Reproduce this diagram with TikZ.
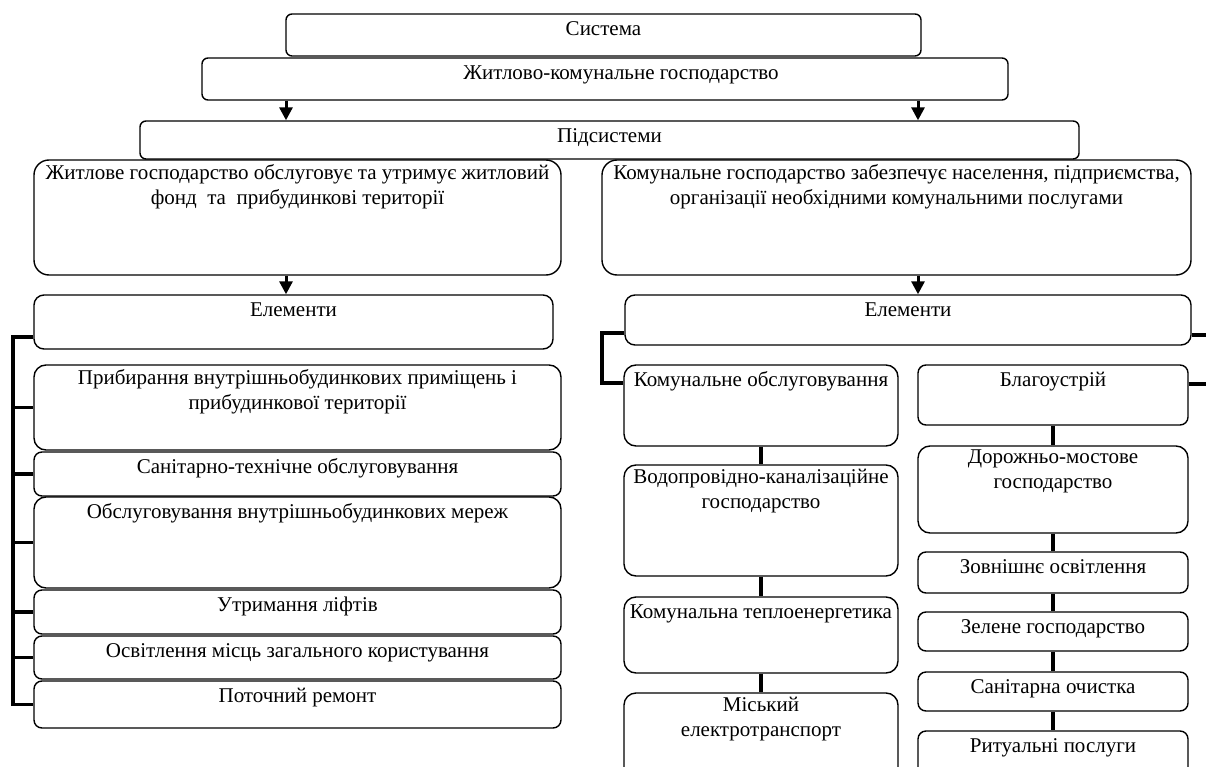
\documentclass[tikz,border=0pt]{standalone}
\usepackage{fontspec}
\setmainfont{Liberation Serif}
\usetikzlibrary{arrows.meta}
\tikzset{
 box/.style={draw, line width=1.4pt, rounded corners=#1, inner sep=0pt},
 box/.default=8pt,
 txt/.style={anchor=north, align=center, inner sep=0pt, font=\fontsize{21}{25}\selectfont, execute at begin node=\strut},
 conn/.style={line width=3.5pt},
 arr/.style={line width=3pt, -{Triangle[width=13pt,length=13pt]}},
}
\newcommand\bx[7][8pt]{%
 \node[box=#1, minimum width={#5-#3}, minimum height={#6-#4}] (#2) at ({(#3+#5)/2},{(#4+#6)/2}) {};
 \node[txt] (#2-t) at ([yshift=-4.5pt]#2.north) {#7};
}
\begin{document}
\begin{tikzpicture}[x=1pt,y=-1pt]
\useasboundingbox[fill=white] (0,0) rectangle (1206,767);
\bx[6pt]{sys}{286}{14}{921}{56}{Система}
\node[box=6pt, minimum width=806, minimum height=42] (zhk) at (605,79) {};
\node[txt] (zhk-t) at ([yshift=-4.5pt,xshift=16pt]zhk.north) {Житлово-комунальне господарство};
\bx[6pt]{pid}{140}{121}{1079}{159}{Підсистеми}
\bx[15pt]{zh}{34}{160}{561}{275}{Житлове господарство обслуговує та утримує житловий\\фонд \ та \ прибудинкові території}
\bx[15pt]{kom}{602}{160}{1191}{275}{Комунальне господарство забезпечує населення, підприємства,\\організації необхідними комунальними послугами}
\bx[10pt]{elL}{34}{295}{553}{349}{Елементи}
\bx[12pt]{pr}{34}{365}{561}{450}{Прибирання внутрішньобудинкових приміщень і\\прибудинкової території}
\bx{san}{34}{452}{561}{496}{Санітарно-технічне обслуговування}
\bx[12pt]{obs}{34}{497}{561}{588}{Обслуговування внутрішньобудинкових мереж}
\bx{lift}{34}{590}{561}{634}{Утримання ліфтів}
\bx{osv}{34}{636}{561}{679}{Освітлення місць загального користування}
\bx{rem}{34}{681}{561}{728}{Поточний ремонт}
\bx[10pt]{elR}{625}{295}{1191}{345}{Елементи}
\bx[12pt]{ko}{624}{365}{898}{446}{Комунальне обслуговування}
\bx[12pt]{vod}{624}{465}{898}{576}{Водопровідно-каналізаційне\\господарство}
\bx[12pt]{tep}{624}{597}{898}{673}{Комунальна теплоенергетика}
\bx[12pt]{mis}{624}{693}{898}{790}{Міський\\електротранспорт}
\bx{bla}{918}{365}{1188}{425}{Благоустрій}
\bx[12pt]{dor}{918}{446}{1188}{533}{Дорожньо-мостове\\господарство}
\bx{zov}{918}{552}{1188}{593}{Зовнішнє освітлення}
\bx{zel}{918}{612}{1188}{651}{Зелене господарство}
\bx{sanoch}{918}{672}{1188}{711}{Санітарна очистка}
\bx{rit}{918}{731}{1188}{790}{Ритуальні послуги}
% arrows
\coordinate (ax1) at (286,0);
\coordinate (ax2) at (918,0);
\draw[arr] (zhk.south -| ax1) -- (pid.north -| ax1);
\draw[arr] (zhk.south -| ax2) -- (pid.north -| ax2);
\draw[arr] (zh.south -| ax1) -- (elL.north -| ax1);
\draw[arr] (kom.south -| ax2) -- (elR.north -| ax2);
% left bus
\coordinate (busT) at (13,337);
\draw[conn] (elL.west |- busT) -- (busT) -- (rem.west -| busT) -- (rem.west);
\foreach \n in {pr,san,obs,lift,osv} \draw[conn] (\n.west -| busT) -- (\n.west);
% right column bus
\coordinate (rb1) at (602,333);
\coordinate (rb2) at (602,383);
\draw[conn] (elR.west |- rb1) -- (rb1) -- (rb2) -- (ko.west |- rb2);
\draw[conn] (ko.south) -- (vod.north);
\draw[conn] (vod.south) -- (tep.north);
\draw[conn] (tep.south) -- (mis.north);
\draw[conn] (bla.south) -- (dor.north);
\draw[conn] (dor.south) -- (zov.north);
\draw[conn] (zov.south) -- (zel.north);
\draw[conn] (zel.south) -- (sanoch.north);
\draw[conn] (sanoch.south) -- (rit.north);
% right edge stubs
\coordinate (re1) at (1212,335);
\coordinate (re2) at (1212,384);
\draw[conn] (elR.east |- re1) -- (re1);
\draw[conn] (bla.east |- re2) -- (re2);
\end{tikzpicture}
\end{document}
